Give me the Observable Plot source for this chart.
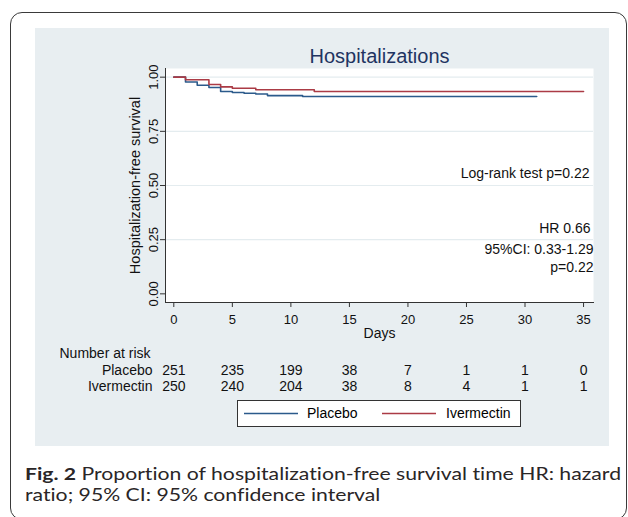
<!DOCTYPE html>
<html><head><meta charset="utf-8">
<script src="https://cdn.jsdelivr.net/npm/d3@7"></script>
<script src="https://cdn.jsdelivr.net/npm/@observablehq/plot@0.6"></script>
<style>
body{margin:0;background:#fff;font-family:"Liberation Sans",Arial,sans-serif;}
#wrap{position:relative;width:628px;height:517px;overflow:hidden;background:#fff}
#border{position:absolute;left:10px;top:12px;width:617px;height:508px;border:1.5px solid #3a3a3a;border-radius:12px;box-sizing:border-box}
#panel{position:absolute;left:35px;top:28px;width:574px;height:418px;background:#e8eef1}
#chart{position:absolute;left:35px;top:28px}
#legend{position:absolute;left:237px;top:400px;width:284px;height:27px;border:1px solid #333;background:#fff;box-sizing:border-box;font-size:14px}
#legend svg{position:absolute;left:0;top:0}
#legend span{position:absolute;top:4px;white-space:nowrap}
#caption{position:absolute;left:25px;top:463px;font-family:Lato,"Open Sans",sans-serif;font-size:17.5px;line-height:21px;color:#2a2627;white-space:nowrap;transform-origin:0 0;font-variant-ligatures:none;font-feature-settings:"liga" 0,"clig" 0}
#caption div{display:block}
</style></head>
<body>
<div id="wrap">
  <div id="border"></div>
  <div id="panel"></div>
  <div id="chart"></div>
  <div id="legend"></div>
  <div id="caption"><div><span id="cap1"><b>Fig. 2</b> Proportion of hospitalization-free survival time HR: hazard</span></div><div>ratio; 95% CI: 95% confidence interval</div></div>
</div>
<script>
// ---- data ----
const seriesNames = ["Placebo", "Ivermectin"];
const seriesColors = ["#2b5a8b", "#ab3b45"];
const placeboDays = [0, 1, 2, 3, 4, 5, 6, 7, 8, 11, 31];
const placeboSurv = [1, 0.978, 0.963, 0.952, 0.934, 0.929, 0.926, 0.922, 0.915, 0.911, 0.911];
const ivermectinDays = [0, 1, 3, 4, 5, 7, 12, 35];
const ivermectinSurv = [1, 0.988, 0.966, 0.955, 0.949, 0.942, 0.934, 0.934];
const xTicks = [0, 5, 10, 15, 20, 25, 30, 35];
const yTicks = [0, 0.25, 0.5, 0.75, 1];
const riskDays = [0, 5, 10, 15, 20, 25, 30, 35];
const placeboRisk = [251, 235, 199, 38, 7, 1, 1, 0];
const ivermectinRisk = [250, 240, 204, 38, 8, 4, 1, 1];
const title = "Hospitalizations";
const xLabel = "Days";
const yLabel = "Hospitalization-free survival";
const annotations = ["Log-rank test p=0.22", "HR 0.66", "95%CI: 0.33-1.29", "p=0.22"];

// ---- build ----
const placebo = placeboDays.map((t, i) => ({t, s: placeboSurv[i]}));
const ivermectin = ivermectinDays.map((t, i) => ({t, s: ivermectinSurv[i]}));
const riskRows = [placeboRisk, ivermectinRisk].map(r => riskDays.map((d, i) => ({d, n: r[i]})));

const gridColor = "#e4ecef";
const axisColor = "#333";
const annotPos = [[-4, 177], [-3, 232], [0, 253], [0, 271]];
const rowBase = [374, 390];

const chart = Plot.plot({
  width: 574, height: 418,
  marginLeft: 130, marginRight: 16, marginTop: 40, marginBottom: 144,
  style: {background: "transparent", fontFamily: "'Liberation Sans', Arial, sans-serif", fontSize: "14px", overflow: "visible"},
  x: {domain: [-0.71, 35.85]},
  y: {domain: [-0.04, 1.04]},
  marks: [
    Plot.frame({fill: "white", stroke: null}),
    Plot.ruleY(yTicks.filter(d => d > 0), {stroke: gridColor, strokeWidth: 1.2}),
    Plot.line(placebo, {x: "t", y: "s", curve: "step-after", stroke: seriesColors[0], strokeWidth: 1.6}),
    Plot.line(ivermectin, {x: "t", y: "s", curve: "step-after", stroke: seriesColors[1], strokeWidth: 1.6}),
    Plot.frame({anchor: "left", stroke: axisColor}),
    Plot.frame({anchor: "bottom", stroke: axisColor}),
    Plot.axisX({ticks: xTicks, tickSize: 5, tickPadding: 7, fontSize: 13, label: null, stroke: axisColor, fill: "#111"}),
    Plot.axisY({ticks: yTicks, tickSize: 5, tickPadding: 3, tickRotate: -90, tickFormat: d3.format(".2f"), fontSize: 13, label: null, stroke: axisColor, fill: "#111"}),
    Plot.text([yLabel], {frameAnchor: "left", dx: -26, rotate: -90, lineAnchor: "bottom", textAnchor: "middle", fontSize: 14.5, fill: "#111"}),
    Plot.text([xLabel], {frameAnchor: "bottom", dy: 35, lineAnchor: "bottom", fontSize: 14, fill: "#111"}),
    Plot.text([title], {frameAnchor: "top", dy: -6, lineAnchor: "bottom", fontSize: 20, fill: "#1f3461"}),
    ...annotations.map((a, i) => Plot.text([a], {frameAnchor: "top-right", dx: annotPos[i][0], dy: annotPos[i][1] - 68, lineAnchor: "bottom", textAnchor: "end", fontSize: 14, fill: "#111"})),
    Plot.text(["Number at risk"], {frameAnchor: "bottom-left", dx: -106, dy: 55, lineAnchor: "bottom", textAnchor: "start", fontSize: 14, fill: "#111"}),
    ...seriesNames.map((n, i) => Plot.text([n], {frameAnchor: "bottom-left", dx: -13, dy: rowBase[i] - 302, lineAnchor: "bottom", textAnchor: "end", fontSize: 14, fill: "#111"})),
    ...riskRows.map((rows, i) => Plot.text(rows, {x: "d", text: "n", frameAnchor: "bottom", dy: rowBase[i] - 302, lineAnchor: "bottom", fontSize: 14, fill: "#111"}))
  ]
});
document.getElementById("chart").append(chart);

// legend
const legend = document.getElementById("legend");
const lx = [[6, 60, 69], [144, 198, 208]];
const svgNS = "http://www.w3.org/2000/svg";
const lsvg = document.createElementNS(svgNS, "svg");
lsvg.setAttribute("width", 284); lsvg.setAttribute("height", 27);
seriesNames.forEach((n, i) => {
  const ln = document.createElementNS(svgNS, "line");
  ln.setAttribute("x1", lx[i][0]); ln.setAttribute("x2", lx[i][1]);
  ln.setAttribute("y1", 12.5); ln.setAttribute("y2", 12.5);
  ln.setAttribute("stroke", seriesColors[i]); ln.setAttribute("stroke-width", 1.6);
  lsvg.appendChild(ln);
});
legend.appendChild(lsvg);
seriesNames.forEach((n, i) => {
  const s = document.createElement("span");
  s.textContent = n; s.style.left = lx[i][2] + "px";
  legend.appendChild(s);
});

// stretch caption horizontally to the reference's line length
const cap = document.getElementById("caption");
const w1 = document.getElementById("cap1").getBoundingClientRect().width;
if (w1 > 0) cap.style.transform = `scaleX(${(596 / w1).toFixed(4)})`;
</script>
</body></html>
